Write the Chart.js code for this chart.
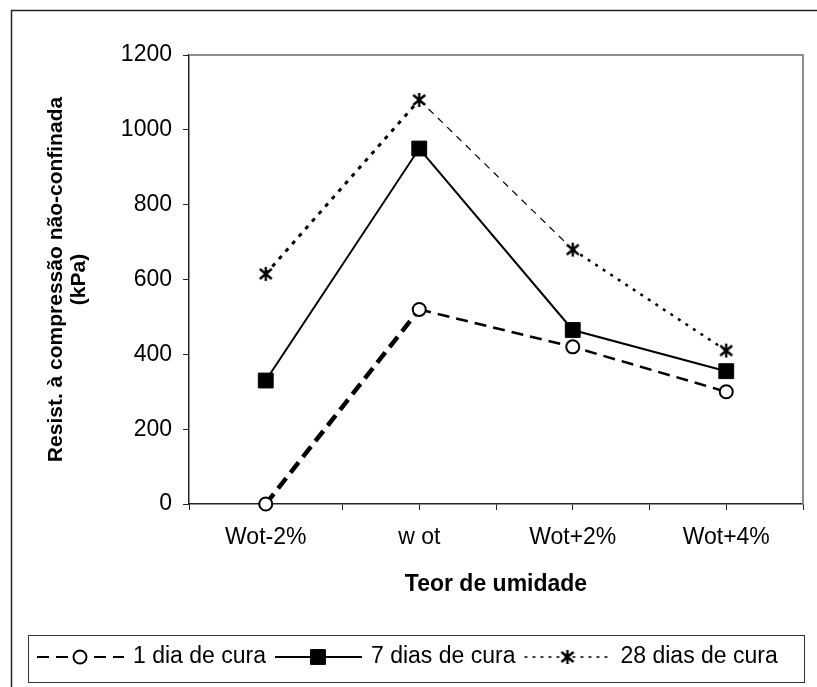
<!DOCTYPE html>
<html>
<head>
<meta charset="utf-8">
<script src="https://cdn.jsdelivr.net/npm/chart.js@4.4.1/dist/chart.umd.min.js"></script>
<style>
  body { margin: 0; background: #fff; }
  #wrap { width: 817px; height: 687px; }
</style>
</head>
<body>
<div id="wrap"><canvas id="resist-chart" width="817" height="687"></canvas></div>
<script>
var categories = ['Wot-2%', 'w ot', 'Wot+2%', 'Wot+4%'];
var cura1 = [0, 520, 420, 300];
var cura7 = [330, 950, 465, 355];
var cura28 = [615, 1080, 680, 410];
var seriesNames = ['1 dia de cura', '7 dias de cura', '28 dias de cura'];
var yTicks = [0, 200, 400, 600, 800, 1000, 1200];

var FONT = '"Liberation Sans", Arial, sans-serif';

function toPoints(values){
  return values.map(function(v, i){ return {x: i, y: v}; });
}

// marcador "asterisco" (X com traço vertical)
function starMarker(size){
  var c = document.createElement('canvas');
  c.width = size; c.height = size;
  var g = c.getContext('2d');
  g.strokeStyle = '#000';
  g.lineWidth = 2.4;
  g.beginPath();
  g.moveTo(2, 3); g.lineTo(size - 2, size - 3);
  g.moveTo(size - 2, 3); g.lineTo(2, size - 3);
  g.moveTo(size / 2, 1); g.lineTo(size / 2, size - 1);
  g.stroke();
  return c;
}
var star = starMarker(16);

// traço usado na legenda de cada série
var legendLine = [
  {width: 2, dash: [12, 7]},
  {width: 2, dash: []},
  {width: 1.5, dash: [3, 5]}
];

var framePlugin = {
  id: 'frameAndLegend',
  beforeDatasetsDraw: function(chart){
    var ctx = chart.ctx, a = chart.chartArea;
    ctx.save();
    ctx.strokeStyle = '#8c8c8c';
    ctx.lineWidth = 2;
    ctx.beginPath();
    ctx.moveTo(a.left, a.top);
    ctx.lineTo(a.right, a.top);
    ctx.lineTo(a.right, a.bottom);
    ctx.stroke();
    ctx.restore();
  },
  afterDraw: function(chart){
    var ctx = chart.ctx;
    ctx.save();
    // moldura externa
    ctx.strokeStyle = '#222';
    ctx.lineWidth = 1.5;
    ctx.beginPath();
    ctx.moveTo(11.5, 687);
    ctx.lineTo(11.5, 10.5);
    ctx.lineTo(817, 10.5);
    ctx.stroke();

    // caixa da legenda
    ctx.lineWidth = 1;
    ctx.strokeStyle = '#333';
    ctx.strokeRect(28.5, 635.5, 776, 47);

    var x = 37, cy = 657;
    ctx.font = '23px ' + FONT;
    ctx.textBaseline = 'middle';
    ctx.textAlign = 'left';
    chart.data.datasets.forEach(function(ds, i){
      var st = legendLine[i];
      ctx.strokeStyle = '#000';
      ctx.lineWidth = st.width;
      ctx.setLineDash(st.dash);
      ctx.beginPath();
      ctx.moveTo(x, cy);
      ctx.lineTo(x + 87, cy);
      ctx.stroke();
      ctx.setLineDash([]);
      ctx.fillStyle = ds.pointBackgroundColor;
      ctx.strokeStyle = ds.pointBorderColor;
      ctx.lineWidth = ds.pointBorderWidth;
      Chart.helpers.drawPoint(ctx, {
        pointStyle: ds.pointStyle,
        radius: ds.pointRadius,
        borderWidth: ds.pointBorderWidth,
        rotation: 0
      }, x + 43, cy);
      ctx.fillStyle = '#000';
      ctx.fillText(ds.label, x + 96, cy);
      x += 96 + ctx.measureText(ds.label).width + 9;
    });
    ctx.restore();
  }
};

var ctx = document.getElementById('resist-chart').getContext('2d');
var myChart = new Chart(ctx, {
  type: 'line',
  data: {
    datasets: [
      {
        label: seriesNames[0],
        data: toPoints(cura1),
        borderColor: '#000',
        borderWidth: 2.5,
        borderDash: [12, 7],
        pointStyle: 'circle',
        pointRadius: 6.5,
        pointBackgroundColor: '#fff',
        pointBorderColor: '#000',
        pointBorderWidth: 2,
        segment: {
          borderWidth: function(c){ return c.p0DataIndex === 0 ? 4.5 : 2.5; },
          borderDash: function(c){ return c.p0DataIndex === 0 ? [13, 7] : [12, 7]; }
        }
      },
      {
        label: seriesNames[1],
        data: toPoints(cura7),
        borderColor: '#000',
        borderWidth: 2,
        pointStyle: 'rect',
        pointRadius: 10.5,
        pointBackgroundColor: '#000',
        pointBorderColor: '#000',
        pointBorderWidth: 1
      },
      {
        label: seriesNames[2],
        data: toPoints(cura28),
        borderColor: '#000',
        borderWidth: 2.5,
        pointStyle: star,
        pointRadius: 7,
        pointBackgroundColor: '#000',
        pointBorderColor: '#000',
        pointBorderWidth: 2,
        segment: {
          borderWidth: function(c){
            if (c.p0DataIndex === 0) return 3;
            if (c.p0DataIndex === 1) return 1.2;
            return 2.5;
          },
          borderDash: function(c){
            if (c.p0DataIndex === 0) return [4, 6];
            if (c.p0DataIndex === 1) return [7, 6];
            return [3, 6];
          }
        }
      }
    ]
  },
  options: {
    responsive: false,
    animation: false,
    clip: false,
    layout: { padding: { top: 55, right: 11, left: 0, bottom: 0 } },
    elements: { line: { tension: 0 } },
    scales: {
      x: {
        type: 'linear',
        min: -0.5,
        max: categories.length - 0.5,
        afterFit: function(s){ s.height = 183; },
        border: { color: '#222', width: 1.5 },
        grid: { drawOnChartArea: false, tickLength: 6, color: '#222' },
        ticks: {
          stepSize: 0.5,
          autoSkip: false,
          maxRotation: 0,
          padding: 14,
          color: '#000',
          font: { family: FONT, size: 23 },
          callback: function(value){
            var i = Math.round(value);
            return Math.abs(value - i) < 1e-6 ? categories[i] : '';
          }
        },
        title: {
          display: true,
          text: 'Teor de umidade',
          color: '#000',
          font: { family: FONT, size: 23, weight: 'bold' },
          padding: { top: 0, bottom: 89 }
        }
      },
      y: {
        min: yTicks[0],
        max: yTicks[yTicks.length - 1],
        afterFit: function(s){ s.width = 189; },
        border: { color: '#222', width: 1.5 },
        grid: { drawOnChartArea: false, tickLength: 6, color: '#222' },
        ticks: {
          stepSize: yTicks[1] - yTicks[0],
          padding: 11,
          color: '#000',
          font: { family: FONT, size: 23 },
          callback: function(value){ return String(value); }
        },
        title: {
          display: true,
          text: ['Resist. à compressão não-confinada', '(kPa)'],
          color: '#000',
          font: { family: FONT, size: 21, weight: 'bold', lineHeight: 1.1 },
          padding: { top: 44.5, bottom: 0 }
        }
      }
    },
    plugins: {
      legend: { display: false },
      tooltip: { enabled: false }
    }
  },
  plugins: [framePlugin]
});
</script>
</body>
</html>
